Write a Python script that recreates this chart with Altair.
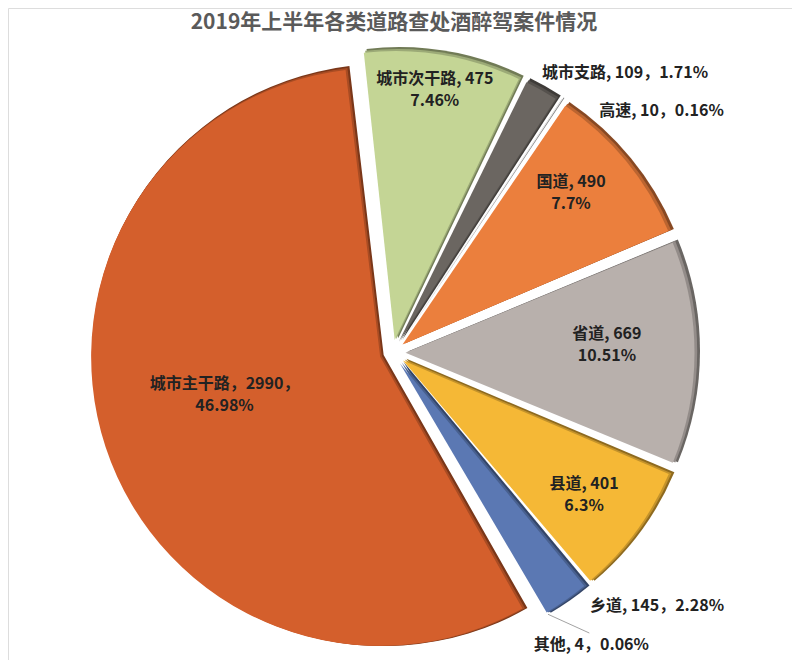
import math
import altair as alt
import pandas as pd

# ---------------- data ----------------
categories = ["城市次干路", "城市支路", "高速", "国道", "省道", "县道", "乡道", "其他", "城市主干路"]
counts = [475, 109, 10, 490, 669, 401, 145, 4, 2990]
percents = ["7.46%", "1.71%", "0.16%", "7.7%", "10.51%", "6.3%", "2.28%", "0.06%", "46.98%"]
title_text = "2019年上半年各类道路查处酒醉驾案件情况"

# ---------------- style / layout ----------------
main_colors = ["#C4D595", "#6B6661", "#D9D9D9", "#EB7F3D", "#B8B0AC",
               "#F5B836", "#5B78B3", "#70AD47", "#D45F2C"]


def shade(hex_color, f):
    h = hex_color.lstrip("#")
    r, g, b = (int(h[i:i + 2], 16) for i in (0, 2, 4))
    return "#%02X%02X%02X" % (int(r * f), int(g * f), int(b * f))


dark_colors = [shade(c, 0.58) for c in main_colors]
mid_colors = [shade(c, 0.80) for c in main_colors]

W, H = 784, 652          # chart size (page minus 8px margin)
CX, CY = 388, 343        # pie centre in chart coordinates
R = 291                  # outer radius
EXPLODE = 13             # slice explosion distance
PAD = 0.009              # pad angle between slices
START = math.radians(-6.5)
TOTAL = sum(counts)
FONT = "Noto Sans CJK SC"
LINE_H = 22

# label placement: (text style, angle shift in deg from slice mid, distance from centre)
label_layout = {
    "城市次干路": ("in2", -1.2, 264),
    "城市支路": ("out", 10.0, 360),
    "高速": ("out", 14.3, 358),
    "国道": ("in2", -2.7, 236),
    "省道": ("in2", -1.6, 211),
    "县道": ("in2", 1.1, 237),
    "乡道": ("out", -10.6, 365),
    "其他": ("out", -3.6, 353),
    "城市主干路": ("big", 3.8, 177),
}


def make_label(cat, n, p):
    style = label_layout[cat][0]
    if style == "in2":
        return f"{cat}, {n}\n{p}"
    if style == "out":
        return f"{cat}, {n}，{p}"
    return f"{cat}，{n}，\n{p}"


df = pd.DataFrame({"cat": categories, "n": counts, "order": list(range(len(categories)))})
lab_df = df.copy()
lab_df["label"] = [make_label(c, n, p) for c, n, p in zip(categories, counts, percents)]
lab_df["dt"] = [math.radians(label_layout[c][1]) for c in categories]
lab_df["lr"] = [label_layout[c][2] for c in categories]
lab_df["nlines"] = [lbl.count("\n") + 1 for lbl in lab_df["label"]]
lab_df["leader"] = [1 if c == "其他" else 0 for c in categories]


def geometry(ch):
    return (ch.transform_window(v1="sum(n)", sort=[alt.SortField("order")], frame=[None, 0])
              .transform_calculate(v0="datum.v1 - datum.n")
              .transform_calculate(mid=f"{START} + PI*(datum.v0 + datum.v1)/{TOTAL}")
              .transform_calculate(cx=f"{CX} + {EXPLODE}*sin(datum.mid)",
                                   cy=f"{CY} - {EXPLODE}*cos(datum.mid)"))


theta_scale = alt.Scale(domain=[0, TOTAL], range=[START, START + 2 * math.pi])


def slice_layer(colors, radius, dx, dy, pad):
    ch = geometry(alt.Chart(df)).transform_calculate(
        px=f"datum.cx + {dx}", py=f"datum.cy + {dy}")
    return ch.mark_arc(radius=radius, padAngle=pad).encode(
        x=alt.X("px:Q", scale=None),
        y=alt.Y("py:Q", scale=None),
        theta=alt.Theta("v0:Q", scale=theta_scale, stack=None),
        theta2="v1:Q",
        color=alt.Color("cat:N", scale=alt.Scale(domain=categories, range=colors), legend=None),
    )


base_layer = slice_layer(dark_colors, R, 0, 0, PAD)
mid_layer = slice_layer(mid_colors, R - 1, -1.8, 0.9, PAD + 0.002)
top_layer = slice_layer(main_colors, R - 2, -3.5, 1.8, PAD + 0.004)

labels_geo = geometry(alt.Chart(lab_df)).transform_calculate(
    lx=f"{CX} + datum.lr*sin(datum.mid + datum.dt)",
    ly=f"{CY} - datum.lr*cos(datum.mid + datum.dt) - (datum.nlines - 1)*{LINE_H}/2")

labels = labels_geo.mark_text(
    font=FONT, fontSize=16, fontWeight="bold", color="#222222",
    align="center", baseline="middle", lineBreak="\n", lineHeight=LINE_H,
).encode(
    x=alt.X("lx:Q", scale=None),
    y=alt.Y("ly:Q", scale=None),
    text="label:N",
)

leader = labels_geo.transform_filter("datum.leader == 1").transform_calculate(
    sx=f"datum.cx + {R}*sin(datum.mid)",
    sy=f"datum.cy - {R}*cos(datum.mid)",
    ex="datum.lx - 2",
    ey="datum.ly - 12",
).mark_rule(color="#8A8A8A", strokeWidth=0.8).encode(
    x=alt.X("sx:Q", scale=None), y=alt.Y("sy:Q", scale=None),
    x2="ex:Q", y2="ey:Q",
)

title = alt.Chart(pd.DataFrame({"t": [title_text]})).mark_text(
    font=FONT, fontSize=21, fontWeight="bold", color="#5A5A5A",
    align="center", baseline="top",
).encode(x=alt.value(386), y=alt.value(4), text="t:N")

chart = alt.layer(base_layer, mid_layer, top_layer, leader, labels, title).resolve_scale(
    color="independent"
).properties(
    width=W, height=H, padding=0, autosize=alt.AutoSizeParams(type="none")
).configure_view(stroke=None).configure(background="white")

chart.save("out.html", embed_options={"renderer": "svg", "actions": False})
